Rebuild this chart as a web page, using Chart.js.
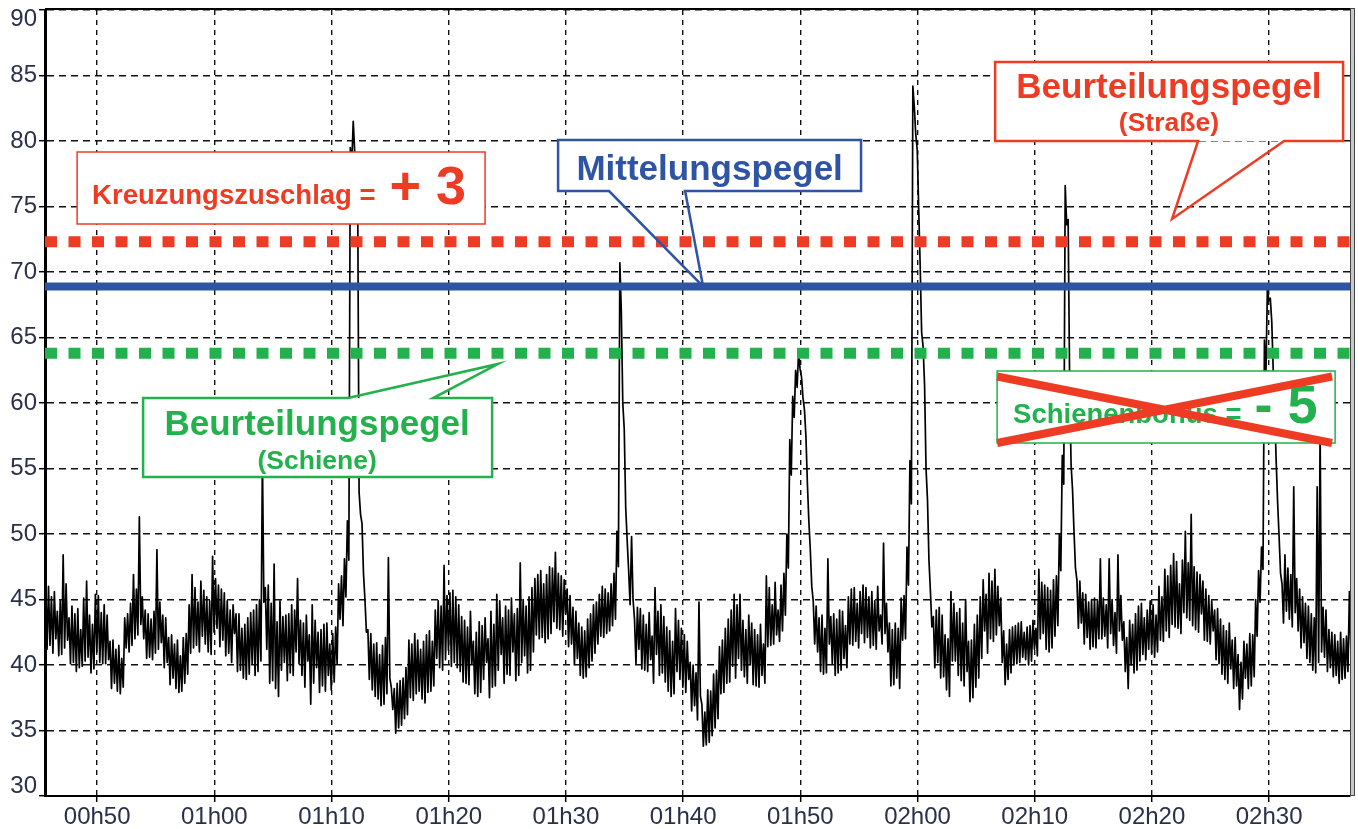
<!DOCTYPE html>
<html lang="de">
<head>
<meta charset="utf-8">
<title>Pegelverlauf</title>
<script src="https://cdn.jsdelivr.net/npm/chart.js@4.4.1/dist/chart.umd.min.js"></script>
<style>
  html,body{margin:0;padding:0;background:#fff;}
  canvas{display:block;}
</style>
</head>
<body>
<canvas id="pegel" width="1358" height="829"></canvas>
<script>
// ---- Daten ----
// Zeitachse in Minuten ab 00h00
const timeTicks  = [50, 60, 70, 80, 90, 100, 110, 120, 130, 140, 150];
const timeLabels = ['00h50','01h00','01h10','01h20','01h30','01h40','01h50','02h00','02h10','02h20','02h30'];
const levelTicks = [30, 35, 40, 45, 50, 55, 60, 65, 70, 75, 80, 85, 90];

// Pegelverlauf in dB(A): je 15-s-Fenster ab 00h45:36 zwei Ablesungen
// (levels = erster Wert, levelsPartner = Gegenwert im selben Fenster)
const sampleStart = 45.6, sampleStep = 0.25;
const levels = [
  46.7, 41.5, 45.2, 42.0, 44.1, 40.8, 48.4, 41.9, 43.6, 40.2,
  43.9, 39.8, 42.7, 40.3, 46.4, 39.4, 43.1, 41.0, 45.3, 40.1,
  44.6, 40.4, 41.8, 38.6, 41.2, 37.8, 40.5, 41.3, 43.9, 41.5,
  46.9, 42.3, 51.3, 42.0, 44.2, 40.6, 43.5, 40.9, 48.8, 41.7,
  43.8, 40.2, 42.1, 39.0, 41.6, 37.9, 40.7, 38.6, 42.4, 40.9,
  46.9, 41.5, 44.8, 42.2, 45.7, 41.0, 44.9, 48.3, 42.8, 46.1,
  41.9, 45.5, 40.9, 44.2, 42.4, 43.9, 39.6, 42.8, 38.9, 43.6,
  40.1, 44.2, 39.5, 45.0, 56.0, 41.2, 46.1, 38.8, 47.7, 37.6,
  44.9, 40.2, 43.8, 39.4, 44.6, 41.0, 46.6, 39.2, 43.2, 40.3,
  37.0, 44.6, 39.8, 42.5, 38.4, 43.1, 39.2, 41.6, 38.7, 42.9,
  43.5, 46.8, 45.2, 51.0, 79.5, 81.5, 78.8, 53.2, 50.8, 45.0,
  42.7, 38.1, 41.6, 37.4, 40.8, 37.0, 42.1, 48.2, 38.3, 34.8,
  38.6, 35.4, 39.0, 36.2, 41.9, 37.3, 42.4, 38.0, 41.2, 37.1,
  42.3, 38.0, 41.8, 40.5, 44.9, 39.6, 47.6, 41.1, 45.5, 40.2,
  45.2, 39.5, 43.7, 38.6, 42.9, 40.1, 41.8, 37.6, 43.3, 38.9,
  40.2, 37.5, 44.1, 38.4, 45.4, 40.8, 43.6, 39.3, 44.2, 41.0,
  43.9, 39.2, 47.8, 40.7, 44.5, 39.6, 45.9, 42.3, 46.9, 42.1,
  46.2, 42.0, 47.5, 43.3, 48.6, 42.7, 46.8, 43.9, 45.8, 41.6,
  44.4, 40.5, 43.2, 39.0, 42.6, 39.8, 43.9, 40.9, 44.8, 42.2,
  46.0, 42.4, 45.5, 43.0, 47.0, 50.2, 70.7, 60.0, 52.0, 47.2,
  49.8, 43.5, 41.2, 44.3, 39.6, 43.1, 40.4, 42.2, 45.9, 39.2,
  44.6, 38.7, 42.9, 37.6, 41.8, 39.5, 43.4, 38.3, 42.3, 38.9,
  40.2, 36.9, 39.4, 44.8, 33.8, 36.4, 34.1, 38.0, 35.2, 39.6,
  37.8, 41.9, 38.6, 43.5, 39.9, 45.4, 40.5, 45.4, 39.1, 42.7,
  40.0, 43.2, 38.4, 42.3, 39.2, 41.6, 46.8, 41.5, 44.6, 42.3,
  44.2, 46.1, 43.8, 50.0, 57.2, 60.5, 62.5, 63.9, 62.0, 59.5,
  53.9, 48.8, 44.9, 41.0, 43.6, 39.3, 42.8, 48.1, 40.1, 43.9,
  39.4, 44.2, 40.5, 43.0, 41.6, 45.8, 41.8, 44.7, 42.4, 46.1,
  42.1, 45.2, 41.5, 44.9, 42.6, 43.8, 49.3, 41.0, 43.2, 38.5,
  39.0, 42.8, 41.9, 45.3, 49.0, 55.6, 84.2, 80.5, 74.8, 65.4,
  55.0, 48.0, 45.6, 43.7, 40.2, 44.4, 39.1, 42.3, 37.6, 45.6,
  40.3, 44.0, 38.8, 43.2, 39.5, 37.2, 41.9, 38.3, 43.8, 40.5,
  42.6, 45.4, 47.0, 41.8, 47.3, 43.0, 45.1, 38.5, 41.6, 39.4,
  42.9, 40.1, 43.2, 40.6, 42.5, 40.0, 43.0, 41.2, 42.8, 47.3,
  42.4, 46.1, 41.0, 45.7, 42.2, 46.8, 50.0, 56.0, 76.6, 74.0,
  55.3, 50.2, 46.5, 43.2, 45.5, 42.1, 44.8, 41.4, 45.1, 42.0,
  48.1, 42.2, 44.6, 48.1, 41.5, 44.0, 48.4, 41.9, 43.3, 38.2,
  40.0, 43.1, 39.6, 44.5, 40.8, 43.6, 41.2, 44.9, 40.6, 43.8,
  41.9, 45.2, 42.6, 46.8, 43.1, 48.5, 42.8, 46.2, 44.0, 50.2,
  43.4, 51.5, 42.7, 47.1, 43.9, 46.4, 41.8, 45.3, 42.6, 44.2,
  40.1, 43.5, 38.9, 42.6, 39.7, 41.9, 38.4, 36.6, 40.2, 39.0,
  41.6, 38.4, 42.3, 45.0, 47.2, 49.0, 64.8, 68.8, 68.0, 62.5,
  55.6, 49.8, 46.2, 48.4, 43.5, 46.9, 53.6, 42.6, 45.8, 41.7,
  44.7, 40.2, 43.9, 39.4, 53.6, 58.0, 40.6, 44.2, 39.8, 42.5,
  39.2, 41.8, 38.9, 42.0, 39.5, 45.6
];
const levelsPartner = [
  41.2, 46.0, 40.9, 45.6, 40.7, 44.9, 41.3, 46.2, 40.1, 44.5,
  39.5, 44.3, 39.9, 45.1, 40.6, 43.8, 39.7, 45.4, 40.2, 44.0,
  40.1, 43.8, 38.2, 41.9, 38.0, 41.5, 38.3, 43.6, 41.0, 44.7,
  42.0, 45.8, 43.1, 45.2, 40.5, 43.9, 40.4, 44.1, 41.2, 44.8,
  39.8, 43.6, 38.5, 42.3, 38.2, 41.9, 38.0, 42.1, 39.3, 44.6,
  41.3, 45.9, 41.0, 46.4, 41.6, 45.2, 40.8, 42.5, 46.6, 41.4,
  45.8, 40.7, 44.9, 40.2, 44.6, 39.5, 43.9, 39.0, 43.1, 39.3,
  44.0, 39.2, 44.6, 40.3, 44.8, 45.9, 38.6, 44.7, 38.2, 43.3,
  39.6, 43.7, 38.8, 43.9, 39.2, 44.2, 40.1, 43.4, 38.3, 43.8,
  42.3, 38.6, 43.4, 37.9, 42.7, 38.0, 43.2, 38.1, 42.4, 40.1,
  46.2, 43.0, 48.1, 48.0, 78.2, 79.2, 77.0, 51.5, 47.0, 42.5,
  38.9, 42.4, 37.6, 41.7, 36.9, 41.5, 37.8, 39.0, 36.6, 38.2,
  35.2, 38.8, 35.9, 39.8, 37.5, 41.6, 37.8, 41.9, 37.4, 41.8,
  37.9, 42.6, 38.4, 44.2, 39.8, 44.5, 40.4, 45.3, 39.9, 45.7,
  39.8, 44.6, 38.7, 43.4, 38.5, 44.1, 37.8, 42.5, 37.9, 43.0,
  43.6, 42.0, 38.3, 43.1, 39.6, 44.9, 38.6, 44.5, 39.2, 45.1,
  38.8, 44.3, 40.2, 45.0, 39.4, 45.2, 41.0, 46.6, 42.0, 47.2,
  41.7, 46.9, 42.4, 47.4, 42.8, 47.0, 42.2, 46.5, 41.4, 45.3,
  40.0, 44.1, 39.2, 42.9, 39.1, 43.5, 40.3, 44.6, 41.6, 45.4,
  42.1, 45.8, 42.6, 46.2, 43.5, 47.5, 67.0, 58.0, 49.5, 44.6,
  45.0, 40.1, 44.4, 39.7, 43.8, 39.5, 44.0, 38.6, 40.8, 44.1,
  39.4, 43.7, 38.0, 42.6, 37.8, 44.3, 38.9, 42.8, 37.9, 41.8,
  36.5, 40.0, 35.8, 37.6, 37.0, 33.9, 38.1, 34.6, 39.3, 35.9,
  41.4, 37.9, 42.8, 38.7, 44.2, 39.0, 44.6, 39.6, 43.4, 38.6,
  43.8, 38.5, 42.7, 38.3, 43.1, 38.6, 41.4, 45.9, 41.6, 46.3,
  41.8, 42.6, 47.0, 47.4, 54.5, 58.9, 61.2, 62.6, 60.4, 57.5,
  51.0, 46.0, 41.6, 44.5, 39.5, 43.8, 39.4, 41.6, 43.7, 39.2,
  43.5, 39.6, 44.1, 39.8, 45.2, 41.5, 45.9, 41.3, 45.6, 41.7,
  45.9, 41.3, 45.6, 41.2, 46.0, 41.6, 42.4, 44.7, 38.4, 42.7,
  43.2, 38.2, 45.1, 42.0, 46.1, 52.3, 82.6, 79.3, 70.5, 64.3,
  61.4, 52.6, 42.9, 39.8, 44.2, 39.0, 43.8, 38.1, 42.0, 40.3,
  44.7, 39.2, 44.3, 38.4, 45.0, 41.8, 37.5, 43.1, 39.0, 45.2,
  46.5, 40.9, 42.0, 46.4, 42.3, 46.0, 40.2, 42.6, 38.9, 42.7,
  40.0, 43.0, 40.2, 43.3, 40.4, 42.9, 40.3, 43.4, 40.7, 42.0,
  46.3, 41.2, 45.9, 41.3, 46.5, 43.0, 47.2, 53.8, 73.6, 62.0,
  53.4, 47.4, 42.8, 46.4, 41.6, 45.4, 41.2, 45.0, 41.3, 44.9,
  42.0, 45.1, 41.3, 42.4, 45.0, 40.9, 42.6, 45.3, 39.5, 42.1,
  43.4, 39.4, 43.9, 40.3, 44.7, 40.4, 44.2, 40.9, 44.6, 41.0,
  46.0, 41.8, 47.3, 42.1, 47.6, 42.9, 47.9, 42.4, 48.0, 43.6,
  47.8, 43.0, 47.5, 42.5, 46.9, 41.9, 45.8, 41.6, 44.9, 40.4,
  44.3, 39.3, 43.0, 38.6, 43.2, 38.2, 42.1, 40.8, 37.4, 41.8,
  38.2, 42.4, 39.1, 42.2, 44.8, 47.3, 62.0, 67.8, 66.2, 59.5,
  52.4, 47.0, 43.2, 44.1, 47.4, 42.9, 44.0, 46.6, 41.3, 45.2,
  40.5, 44.5, 39.6, 43.6, 40.2, 41.0, 44.4, 39.5, 42.7, 39.1,
  42.3, 38.6, 42.5, 39.0, 42.2, 41.0
];

// Bezugspegel
const mittelungspegel    = 68.9;
const beurteilungStrasse = 72.3;  // Mittelungspegel + Kreuzungszuschlag
const beurteilungSchiene = 63.8;  // Mittelungspegel - Schienenbonus

// ---- Stil ----
const RED = '#ee3b24', BLUE = '#2f54a3', GREEN = '#22b14c';
const TICK = '#2a3048';
const FONT = '"Liberation Sans", Arial, Helvetica, sans-serif';
const xMin = 45.55, xMax = 156.9;

// je Fenster erst Maximum, dann Minimum -> dichtes Band wie im Original
const trace = [];
levels.forEach((v, i) => {
  const w = levelsPartner[i], t = sampleStart + i * sampleStep;
  trace.push({ x: t, y: Math.max(v, w) }, { x: t + sampleStep / 2, y: Math.min(v, w) });
});
const flat = v => [{ x: xMin, y: v }, { x: xMax, y: v }];

// Sprechblasen / Kästen (Koordinaten in Minuten / dB)
const callouts = [
  { color: RED, lw: 1.5, box: [48.29, 83.10, 79.16, 73.66],
    texts: [
      { s: 'Kreuzungszuschlag =', size: 27.5, x: 49.57, y: 75.19, align: 'left' },
      { s: '+ 3', size: 54, x: 74.95, y: 75.19, align: 'left' },
    ] },
  { color: BLUE, lw: 2.5, box: [89.33, 115.18, 80.08, 76.18],
    tail: { edge: 'bottom', a: 93.68, b: 100.17, tx: 101.70, ty: mittelungspegel },
    texts: [ { s: 'Mittelungspegel', size: 35, x: 102.26, y: 77.02, align: 'center' } ] },
  { color: RED, lw: 2.5, box: [126.62, 156.31, 86.03, 80.0],
    tail: { edge: 'bottom', a: 143.94, b: 151.28, tx: 141.72, ty: 74.05 },
    texts: [
      { s: 'Beurteilungspegel', size: 35, x: 141.45, y: 83.26, align: 'center' },
      { s: '(Straße)', size: 26.5, x: 141.45, y: 80.78, align: 'center' },
    ] },
  { color: GREEN, lw: 2.5, box: [53.92, 83.70, 60.38, 54.35],
    tail: { edge: 'top', a: 71.41, b: 78.67, tx: 84.21, ty: 62.98 },
    texts: [
      { s: 'Beurteilungspegel', size: 35, x: 68.77, y: 57.56, align: 'center' },
      { s: '(Schiene)', size: 26.5, x: 68.77, y: 54.96, align: 'center' },
    ] },
  { color: GREEN, lw: 1.5, box: [126.79, 155.63, 62.44, 56.95],
    texts: [
      { s: 'Schienenbonus =', size: 27.5, x: 128.15, y: 58.45, align: 'left' },
      { s: '- 5', size: 54, x: 148.75, y: 58.45, align: 'left' },
    ],
    cross: { x1: 126.79, x2: 155.37, yTop: 62.02, yBot: 56.95 } },
];

// Rahmen oben/rechts + Sprechblasen über allem
const annotate = {
  id: 'annotate',
  afterDraw(chart) {
    const { ctx, chartArea: a, scales: { x, y } } = chart;
    ctx.save();
    // oberer Rahmen
    ctx.strokeStyle = '#000'; ctx.lineWidth = 2;
    ctx.beginPath(); ctx.moveTo(a.left, a.top - 1); ctx.lineTo(a.right, a.top - 1); ctx.stroke();
    // rechter Rand (grau, doppelt)
    ctx.fillStyle = '#c8c8c8'; ctx.fillRect(a.right, a.top - 2, 5, a.bottom - a.top + 2);
    ctx.strokeStyle = '#444'; ctx.lineWidth = 1;
    ctx.strokeRect(a.right + 0.5, a.top - 1.5, 4, a.bottom - a.top + 1);

    for (const c of callouts) {
      const [x1, x2, yt, yb] = c.box;
      const L = x.getPixelForValue(x1), R = x.getPixelForValue(x2);
      const T = y.getPixelForValue(yt), B = y.getPixelForValue(yb);
      // nur der Kasten ist weiß gefüllt, die Spitze bleibt offen
      ctx.fillStyle = '#fff';
      ctx.fillRect(L, T, R - L, B - T);
      ctx.beginPath();
      if (c.tail && c.tail.edge === 'bottom') {
        const pa = x.getPixelForValue(c.tail.a), pb = x.getPixelForValue(c.tail.b);
        ctx.moveTo(L, T); ctx.lineTo(R, T); ctx.lineTo(R, B); ctx.lineTo(pb, B);
        ctx.lineTo(x.getPixelForValue(c.tail.tx), y.getPixelForValue(c.tail.ty));
        ctx.lineTo(pa, B); ctx.lineTo(L, B);
      } else if (c.tail && c.tail.edge === 'top') {
        const pa = x.getPixelForValue(c.tail.a), pb = x.getPixelForValue(c.tail.b);
        ctx.moveTo(L, T); ctx.lineTo(pa, T);
        ctx.lineTo(x.getPixelForValue(c.tail.tx), y.getPixelForValue(c.tail.ty));
        ctx.lineTo(pb, T); ctx.lineTo(R, T); ctx.lineTo(R, B); ctx.lineTo(L, B);
      } else {
        ctx.rect(L, T, R - L, B - T);
      }
      ctx.closePath();
      ctx.strokeStyle = c.color; ctx.lineWidth = c.lw; ctx.lineJoin = 'miter'; ctx.stroke();

      ctx.fillStyle = c.color; ctx.textBaseline = 'alphabetic';
      for (const t of c.texts) {
        ctx.font = `bold ${t.size}px ${FONT}`;
        ctx.textAlign = t.align;
        ctx.fillText(t.s, x.getPixelForValue(t.x), y.getPixelForValue(t.y));
      }
      if (c.cross) {
        const cl = x.getPixelForValue(c.cross.x1), cr = x.getPixelForValue(c.cross.x2);
        const ct = y.getPixelForValue(c.cross.yTop), cb = y.getPixelForValue(c.cross.yBot);
        ctx.strokeStyle = RED; ctx.lineWidth = 8; ctx.lineCap = 'butt';
        ctx.beginPath();
        ctx.moveTo(cl, ct); ctx.lineTo(cr, cb);
        ctx.moveTo(cl, cb); ctx.lineTo(cr, ct);
        ctx.stroke();
      }
    }
    ctx.restore();
  }
};

new Chart(document.getElementById('pegel'), {
  type: 'line',
  data: {
    datasets: [
      { data: flat(beurteilungStrasse), borderColor: RED,   borderWidth: 11, borderDash: [12, 11.5], borderCapStyle: 'butt', order: 1 },
      { data: flat(mittelungspegel),    borderColor: BLUE,  borderWidth: 8,  order: 1 },
      { data: flat(beurteilungSchiene), borderColor: GREEN, borderWidth: 11, borderDash: [12, 11.5], borderCapStyle: 'butt', order: 1 },
      { data: trace, borderColor: '#000', borderWidth: 1.7, borderJoinStyle: 'round', order: 2 },
    ]
  },
  options: {
    responsive: false,
    animation: false,
    events: [],
    elements: { point: { radius: 0 }, line: { tension: 0 } },
    layout: { autoPadding: false, padding: { top: 10, right: 8, bottom: 0, left: 0 } },
    plugins: { legend: { display: false }, tooltip: { enabled: false } },
    scales: {
      x: {
        type: 'linear', min: xMin, max: xMax,
        afterBuildTicks: s => { s.ticks = timeTicks.map(v => ({ value: v })); },
        afterFit: s => { s.height = 33; s.paddingLeft = 0; s.paddingRight = 0; },
        ticks: { autoSkip: false, maxRotation: 0, padding: 1, color: TICK,
                 font: { family: FONT, size: 24 }, callback: (v, i) => timeLabels[i] },
        grid: { color: '#111', lineWidth: 1.4, tickLength: 6, tickColor: '#000', tickWidth: 1.5, tickBorderDash: [] },
        border: { display: true, color: '#000', width: 2, dash: [5, 5] }
      },
      y: {
        min: 30, max: 90,
        afterBuildTicks: s => { s.ticks = levelTicks.map(v => ({ value: v })); },
        afterFit: s => { s.width = 45; s.paddingTop = 0; s.paddingBottom = 0; },
        // Randbeschriftungen 90/30 wie im Original nach innen gerückt
        ticks: { padding: 2, color: TICK, font: { family: FONT, size: 24, lineHeight: 0.8 },
                 callback: v => v === 90 ? ['', '90'] : v === 30 ? ['30', ''] : String(v) },
        grid: { color: '#111', lineWidth: 1.4, tickLength: 6, tickColor: '#000', tickWidth: 1.5, tickBorderDash: [] },
        border: { display: true, color: '#000', width: 3, dash: [7, 5] }
      }
    }
  },
  plugins: [annotate]
});
</script>
</body>
</html>
